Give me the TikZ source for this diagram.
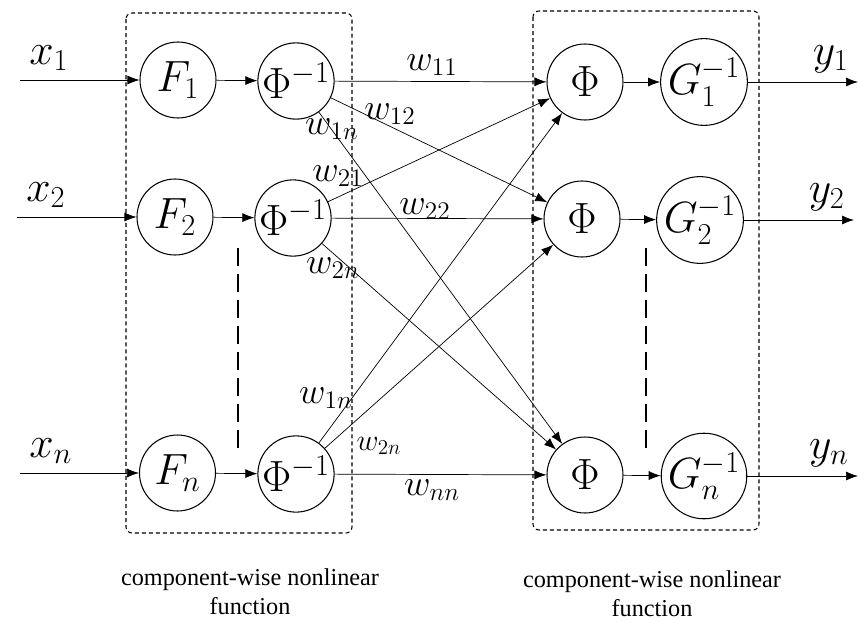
\documentclass[tikz,border=0pt]{standalone}
\usepackage{amsmath}
\usepackage{fontspec}
\usetikzlibrary{arrows.meta}
\newfontfamily\capfont{Liberation Serif}
\pgfdeclarelayer{bg}
\pgfsetlayers{bg,main}

\begin{document}
\begin{tikzpicture}[line width=0.6pt,
        neuron/.style={circle, draw, minimum size=1.52cm, inner sep=0pt, font=\fontsize{24}{28}\selectfont},
        wire/.style={-{Latex[length=0.24cm,width=0.18cm]}},
        wlab/.style={font=\fontsize{20}{24}\selectfont, inner sep=0pt},
        iolab/.style={font=\fontsize{26}{30}\selectfont, inner sep=1pt, label distance=0.2cm},
        caption/.style={align=center, font=\capfont\fontsize{13.8}{16.5}\selectfont},
        box/.style={dash pattern=on 2.3pt off 1.7pt, rounded corners=0.12cm},
        gap/.style={line width=1.3pt, dash pattern=on 0.36cm off 0.16cm}]
        \useasboundingbox (0cm, 0cm) rectangle (17.2cm, -12.44cm);
        \node (f1) [neuron] at (3.56cm, -1.60cm) {$F_1$};
        \node (f2) [neuron] at (3.50cm, -4.34cm) {$F_2$};
        \node (fn) [neuron] at (3.55cm, -9.46cm) {$F_n$};
        \node (p1) [neuron] at (5.92cm, -1.62cm) {$\Phi^{-1}$};
        \node (p2) [neuron] at (5.86cm, -4.36cm) {$\Phi^{-1}$};
        \node (pn) [neuron] at (5.92cm, -9.48cm) {$\Phi^{-1}$};
        \node (q1) [neuron] at (11.70cm, -1.64cm) {$\Phi$};
        \node (q2) [neuron] at (11.64cm, -4.38cm) {$\Phi$};
        \node (qn) [neuron] at (11.70cm, -9.50cm) {$\Phi$};
        \node (g1) [neuron] at (14.08cm, -1.64cm) {$G_1^{-1}$};
        \node (g2) [neuron] at (14.00cm, -4.40cm) {$G_2^{-1}$};
        \node (gn) [neuron] at (14.08cm, -9.52cm) {$G_n^{-1}$};
        \coordinate [label={[iolab]above right:$x_1$}] (x1) at (0.40cm, -1.60cm);
        \coordinate [label={[iolab]above right:$x_2$}] (x2) at (0.34cm, -4.34cm);
        \coordinate [label={[iolab]above right:$x_n$}] (xn) at (0.40cm, -9.46cm);
        \coordinate [label={[iolab]above left:$y_1$}] (y1) at (17.16cm, -1.64cm);
        \coordinate [label={[iolab]above left:$y_2$}] (y2) at (17.08cm, -4.40cm);
        \coordinate [label={[iolab]above left:$y_n$}] (yn) at (17.16cm, -9.52cm);
        \node (w11) [wlab] at (8.64cm, -1.30cm) {$w_{11}$};
        \node (w12) [wlab] at (7.80cm, -2.28cm) {$w_{12}$};
        \node (w1n) [wlab] at (6.64cm, -2.58cm) {$w_{1n}$};
        \node (w21) [wlab] at (6.76cm, -3.52cm) {$w_{21}$};
        \node (w22) [wlab] at (8.50cm, -4.18cm) {$w_{22}$};
        \node (w2n) [wlab] at (6.66cm, -5.36cm) {$w_{2n}$};
        \node (v1n) [wlab] at (6.52cm, -7.96cm) {$w_{1n}$};
        \node (v2n) [wlab, font=\fontsize{17}{20}\selectfont] at (7.58cm, -8.92cm) {$w_{2n}$};
        \node (wnn) [wlab] at (8.64cm, -9.80cm) {$w_{nn}$};
        \node (c1) [caption] at (5.00cm, -11.84cm) {component-wise nonlinear\\function};
        \node (c2) [caption] at (13.04cm, -11.88cm) {component-wise nonlinear\\function};
        \draw [box] (2.52cm, -0.26cm) rectangle (7.04cm, -10.66cm);
        \draw [box] (10.66cm, -0.22cm) rectangle (15.18cm, -10.60cm);
        \draw [gap] (4.76cm, -4.96cm) -- (4.76cm, -9.00cm);
        \draw [gap] (12.92cm, -4.96cm) -- (12.92cm, -9.06cm);
        \begin{pgfonlayer}{bg}
                \draw (x1) edge [wire] (f1);
                \draw (x2) edge [wire] (f2);
                \draw (xn) edge [wire] (fn);
                \draw (f1) edge [wire] (p1);
                \draw (f2) edge [wire] (p2);
                \draw (fn) edge [wire] (pn);
                \draw (p1) edge [wire] (q1);
                \draw (p1) edge [wire] (q2);
                \draw (p1) edge [wire] (qn);
                \draw (p2) edge [wire] (q1);
                \draw (p2) edge [wire] (q2);
                \draw (p2) edge [wire] (qn);
                \draw (pn) edge [wire] (q1);
                \draw (pn) edge [wire] (q2);
                \draw (pn) edge [wire] (qn);
                \draw (q1) edge [wire] (g1);
                \draw (q2) edge [wire] (g2);
                \draw (qn) edge [wire] (gn);
                \draw (g1) edge [wire] (y1);
                \draw (g2) edge [wire] (y2);
                \draw (gn) edge [wire] (yn);
        \end{pgfonlayer}
\end{tikzpicture}
\end{document}
